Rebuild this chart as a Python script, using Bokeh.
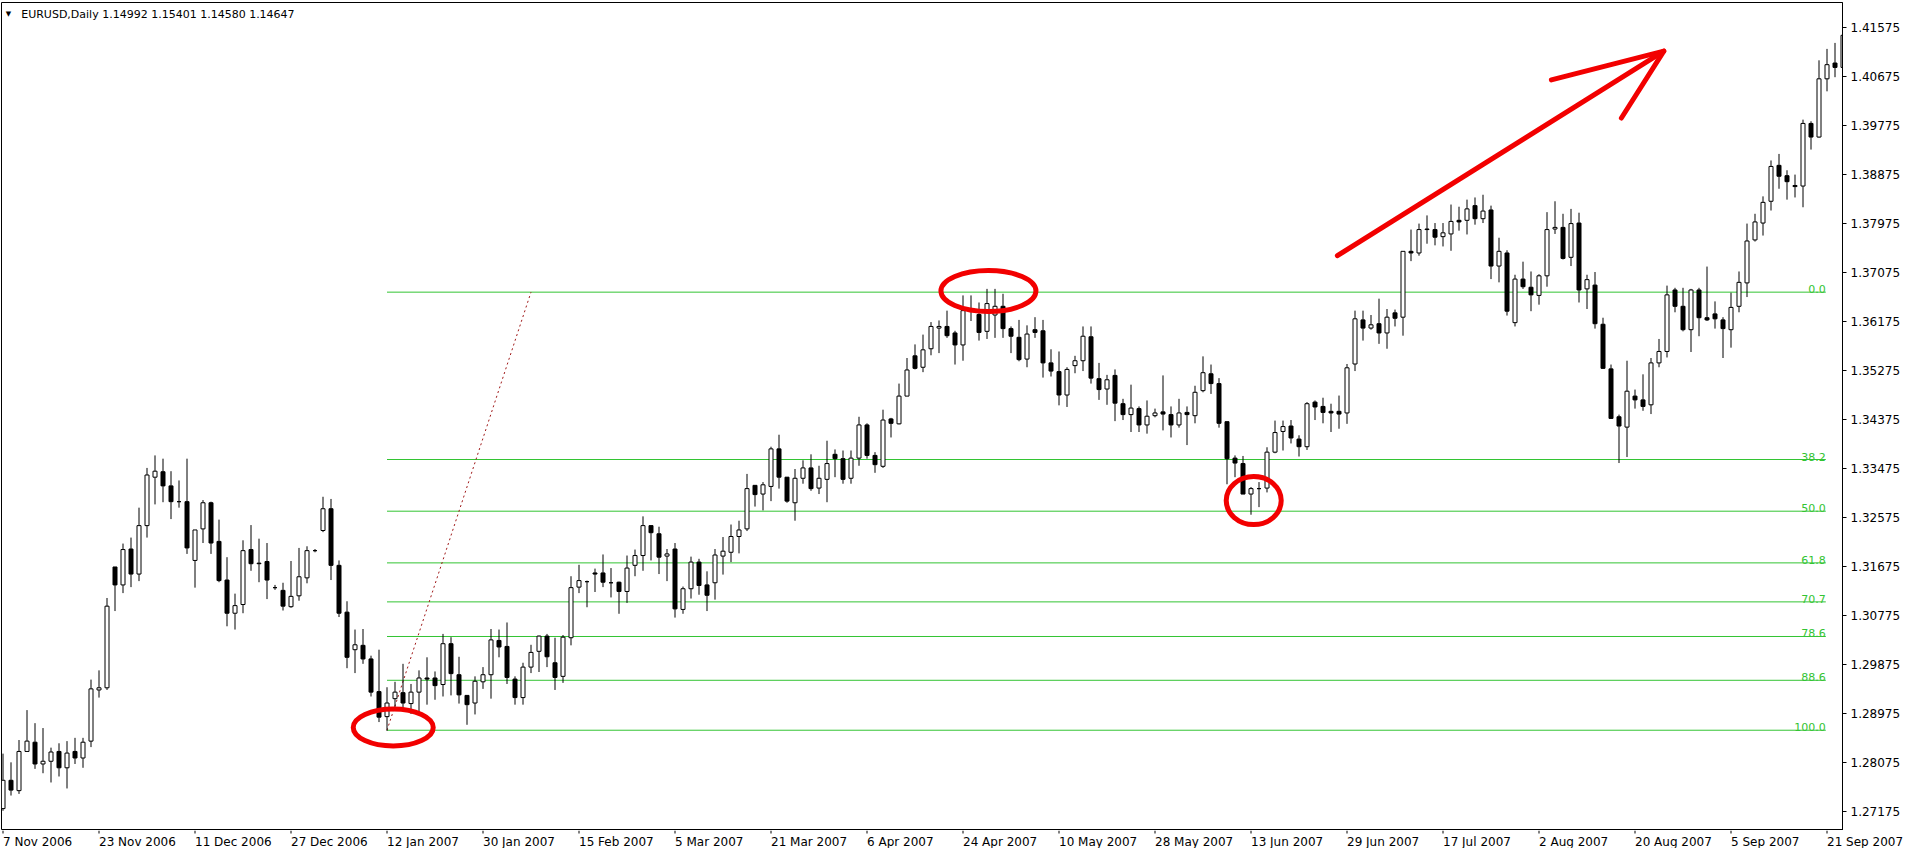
import pandas as pd
from bokeh.plotting import figure
from bokeh.layouts import column
from bokeh.models import Range1d, FixedTicker, PrintfTickFormatter, Label, ColumnDataSource
from bokeh.core.properties import value
from bokeh.embed import file_html
from bokeh.resources import INLINE

# ---------------- data (EURUSD daily) ----------------
open_ = [1.2722, 1.2774, 1.2755, 1.2827, 1.2844, 1.2804, 1.2809, 1.2827, 1.2797, 1.2827,
         1.2815, 1.2846, 1.2940, 1.2944, 1.3166, 1.3133, 1.3199, 1.3153, 1.3242, 1.3331,
         1.3341, 1.3315, 1.3286, 1.3286, 1.3178, 1.3236, 1.3284, 1.3213, 1.3142, 1.3081,
         1.3097, 1.3198, 1.3173, 1.3176, 1.3128, 1.3123, 1.3093, 1.3113, 1.3146, 1.3196,
         1.3233, 1.3273, 1.3169, 1.3083, 1.3014, 1.3022, 1.2997, 1.2937, 1.2891, 1.2924,
         1.2935, 1.2915, 1.2936, 1.2962, 1.2962, 1.2950, 1.3025, 1.2968, 1.2930, 1.2916,
         1.2955, 1.2968, 1.3031, 1.3020, 1.2960, 1.2926, 1.2982, 1.3011, 1.3039, 1.2990,
         1.2965, 1.3036, 1.3129, 1.3139, 1.3155, 1.3155, 1.3137, 1.3138, 1.3121, 1.3169,
         1.3187, 1.3242, 1.3227, 1.3186, 1.3199, 1.3088, 1.3126, 1.3175, 1.3133, 1.3137,
         1.3186, 1.3193, 1.3222, 1.3236, 1.3316, 1.3300, 1.3314, 1.3383, 1.3331, 1.3284,
         1.3329, 1.3348, 1.3311, 1.3327, 1.3373, 1.3365, 1.3329, 1.3366, 1.3427, 1.3371,
         1.3351, 1.3438, 1.3429, 1.3480, 1.3554, 1.3533, 1.3567, 1.3605, 1.3608, 1.3596,
         1.3574, 1.3637, 1.3630, 1.3599, 1.3629, 1.3645, 1.3604, 1.3588, 1.3548, 1.3602,
         1.3600, 1.3541, 1.3525, 1.3482, 1.3536, 1.3545, 1.3589, 1.3512, 1.3493, 1.3518,
         1.3466, 1.3446, 1.3457, 1.3427, 1.3444, 1.3451, 1.3446, 1.3427, 1.3450, 1.3444,
         1.3490, 1.3521, 1.3503, 1.3433, 1.3366, 1.3356, 1.3300, 1.3310, 1.3311, 1.3377,
         1.3415, 1.3425, 1.3401, 1.3387, 1.3469, 1.3461, 1.3452, 1.3452, 1.3449, 1.3539,
         1.3620, 1.3605, 1.3613, 1.3596, 1.3633, 1.3625, 1.3746, 1.3743, 1.3787, 1.3786,
         1.3773, 1.3778, 1.3803, 1.3803, 1.3830, 1.3806, 1.3822, 1.3719, 1.3743, 1.3615,
         1.3695, 1.3680, 1.3665, 1.3701, 1.3787, 1.3790, 1.3735, 1.3798, 1.3677, 1.3684,
         1.3612, 1.3530, 1.3442, 1.3423, 1.3480, 1.3473, 1.3464, 1.3541, 1.3562, 1.3675,
         1.3645, 1.3602, 1.3675, 1.3624, 1.3631, 1.3620, 1.3602, 1.3645, 1.3688, 1.3767,
         1.3798, 1.3838, 1.3904, 1.3885, 1.3867, 1.3866, 1.3981, 1.3956, 1.4063, 1.4092,
         1.4084]
high_ = [1.2823, 1.2807, 1.2848, 1.2903, 1.2879, 1.2870, 1.2834, 1.2842, 1.2846, 1.2852,
         1.2852, 1.2959, 1.2976, 1.3109, 1.3166, 1.3209, 1.3220, 1.3275, 1.3348, 1.3371,
         1.3365, 1.3342, 1.3325, 1.3365, 1.3234, 1.3289, 1.3286, 1.3253, 1.3184, 1.3117,
         1.3215, 1.3243, 1.3218, 1.3210, 1.3133, 1.3137, 1.3177, 1.3201, 1.3204, 1.3199,
         1.3295, 1.3291, 1.3178, 1.3103, 1.3051, 1.3052, 1.3003, 1.3014, 1.2945, 1.2955,
         1.2988, 1.2951, 1.2976, 1.3000, 1.2974, 1.3043, 1.3037, 1.3001, 1.2930, 1.2965,
         1.2982, 1.3052, 1.3051, 1.3064, 1.2965, 1.2990, 1.3023, 1.3040, 1.3043, 1.3036,
         1.3041, 1.3149, 1.3170, 1.3141, 1.3163, 1.3189, 1.3164, 1.3139, 1.3187, 1.3198,
         1.3259, 1.3242, 1.3240, 1.3199, 1.3210, 1.3130, 1.3185, 1.3181, 1.3158, 1.3199,
         1.3221, 1.3244, 1.3251, 1.3337, 1.3316, 1.3322, 1.3387, 1.3409, 1.3331, 1.3346,
         1.3362, 1.3373, 1.3352, 1.3398, 1.3382, 1.3380, 1.3380, 1.3442, 1.3430, 1.3377,
         1.3455, 1.3440, 1.3503, 1.3550, 1.3575, 1.3593, 1.3616, 1.3619, 1.3637, 1.3600,
         1.3665, 1.3665, 1.3652, 1.3677, 1.3677, 1.3668, 1.3608, 1.3620, 1.3610, 1.3625,
         1.3620, 1.3566, 1.3562, 1.3533, 1.3554, 1.3608, 1.3608, 1.3541, 1.3519, 1.3529,
         1.3475, 1.3501, 1.3461, 1.3472, 1.3457, 1.3518, 1.3461, 1.3475, 1.3461, 1.3499,
         1.3553, 1.3538, 1.3513, 1.3433, 1.3371, 1.3370, 1.3313, 1.3322, 1.3386, 1.3435,
         1.3435, 1.3436, 1.3408, 1.3469, 1.3472, 1.3477, 1.3466, 1.3481, 1.3539, 1.3637,
         1.3637, 1.3629, 1.3659, 1.3640, 1.3639, 1.3746, 1.3786, 1.3797, 1.3812, 1.3798,
         1.3798, 1.3832, 1.3828, 1.3841, 1.3845, 1.3850, 1.3830, 1.3771, 1.3748, 1.3703,
         1.3727, 1.3709, 1.3704, 1.3818, 1.3838, 1.3815, 1.3824, 1.3817, 1.3703, 1.3708,
         1.3624, 1.3538, 1.3446, 1.3545, 1.3492, 1.3520, 1.3550, 1.3585, 1.3683, 1.3679,
         1.3679, 1.3677, 1.3679, 1.3718, 1.3654, 1.3625, 1.3670, 1.3709, 1.3797, 1.3815,
         1.3847, 1.3913, 1.3925, 1.3895, 1.3887, 1.3988, 1.3985, 1.4097, 1.4118, 1.4129,
         1.4166]
low_ = [1.2718, 1.2746, 1.2749, 1.2826, 1.2795, 1.2787, 1.2770, 1.2781, 1.2759, 1.2804,
        1.2797, 1.2835, 1.2926, 1.2940, 1.3085, 1.3118, 1.3129, 1.3140, 1.3220, 1.3281,
        1.3285, 1.3254, 1.3275, 1.3190, 1.3128, 1.3210, 1.3190, 1.3138, 1.3057, 1.3051,
        1.3081, 1.3159, 1.3138, 1.3107, 1.3124, 1.3086, 1.3091, 1.3104, 1.3136, 1.3193,
        1.3230, 1.3142, 1.3074, 1.2980, 1.2971, 1.2988, 1.2928, 1.2881, 1.2865, 1.2908,
        1.2905, 1.2896, 1.2899, 1.2913, 1.2922, 1.2928, 1.2930, 1.2915, 1.2876, 1.2895,
        1.2942, 1.2924, 1.3000, 1.2951, 1.2913, 1.2913, 1.2971, 1.2973, 1.2982, 1.2940,
        1.2953, 1.3022, 1.3118, 1.3092, 1.3120, 1.3129, 1.3110, 1.3080, 1.3100, 1.3149,
        1.3159, 1.3178, 1.3153, 1.3140, 1.3073, 1.3080, 1.3108, 1.3115, 1.3085, 1.3106,
        1.3152, 1.3175, 1.3191, 1.3232, 1.3277, 1.3270, 1.3287, 1.3310, 1.3284, 1.3251,
        1.3319, 1.3306, 1.3300, 1.3285, 1.3331, 1.3319, 1.3319, 1.3352, 1.3365, 1.3339,
        1.3348, 1.3404, 1.3428, 1.3480, 1.3529, 1.3524, 1.3555, 1.3559, 1.3587, 1.3538,
        1.3545, 1.3618, 1.3582, 1.3585, 1.3587, 1.3587, 1.3559, 1.3544, 1.3533, 1.3587,
        1.3514, 1.3516, 1.3463, 1.3460, 1.3522, 1.3526, 1.3503, 1.3473, 1.3464, 1.3434,
        1.3436, 1.3414, 1.3414, 1.3411, 1.3441, 1.3417, 1.3404, 1.3422, 1.3390, 1.3430,
        1.3487, 1.3484, 1.3422, 1.3318, 1.3331, 1.3300, 1.3262, 1.3276, 1.3303, 1.3375,
        1.3380, 1.3393, 1.3369, 1.3381, 1.3436, 1.3430, 1.3414, 1.3420, 1.3429, 1.3526,
        1.3582, 1.3602, 1.3576, 1.3567, 1.3608, 1.3591, 1.3728, 1.3738, 1.3760, 1.3757,
        1.3755, 1.3747, 1.3784, 1.3777, 1.3795, 1.3798, 1.3695, 1.3689, 1.3628, 1.3608,
        1.3677, 1.3636, 1.3648, 1.3681, 1.3778, 1.3731, 1.3719, 1.3652, 1.3640, 1.3604,
        1.3530, 1.3438, 1.3357, 1.3368, 1.3457, 1.3453, 1.3447, 1.3533, 1.3551, 1.3634,
        1.3599, 1.3561, 1.3590, 1.3618, 1.3604, 1.3550, 1.3569, 1.3634, 1.3662, 1.3764,
        1.3775, 1.3821, 1.3861, 1.3841, 1.3845, 1.3827, 1.3933, 1.3955, 1.4040, 1.4066,
        1.4064]
close_ = [1.2774, 1.2756, 1.2827, 1.2846, 1.2804, 1.2809, 1.2826, 1.2797, 1.2824, 1.2815,
          1.2844, 1.2942, 1.2944, 1.3094, 1.3133, 1.3198, 1.3153, 1.3242, 1.3335, 1.3342,
          1.3315, 1.3286, 1.3286, 1.3201, 1.3234, 1.3284, 1.3210, 1.3141, 1.3081, 1.3095,
          1.3196, 1.3172, 1.3172, 1.3142, 1.3128, 1.3094, 1.3112, 1.3148, 1.3196, 1.3196,
          1.3273, 1.3169, 1.3081, 1.3000, 1.3023, 1.2997, 1.2936, 1.2890, 1.2916, 1.2936,
          1.2916, 1.2936, 1.2962, 1.2960, 1.2948, 1.3025, 1.2970, 1.2931, 1.2913, 1.2956,
          1.2968, 1.3032, 1.3019, 1.2963, 1.2926, 1.2982, 1.3009, 1.3039, 1.3001, 1.2963,
          1.3037, 1.3128, 1.3141, 1.3139, 1.3153, 1.3138, 1.3137, 1.3121, 1.3164, 1.3187,
          1.3242, 1.3229, 1.3184, 1.3190, 1.3089, 1.3126, 1.3175, 1.3132, 1.3114, 1.3188,
          1.3195, 1.3222, 1.3234, 1.3310, 1.3299, 1.3317, 1.3383, 1.3331, 1.3287, 1.3329,
          1.3348, 1.3310, 1.3329, 1.3356, 1.3365, 1.3327, 1.3366, 1.3427, 1.3371, 1.3354,
          1.3436, 1.3430, 1.3480, 1.3528, 1.3531, 1.3565, 1.3608, 1.3608, 1.3591, 1.3574,
          1.3637, 1.3637, 1.3597, 1.3650, 1.3645, 1.3604, 1.3590, 1.3547, 1.3594, 1.3597,
          1.3541, 1.3526, 1.3482, 1.3529, 1.3545, 1.3590, 1.3513, 1.3492, 1.3510, 1.3467,
          1.3446, 1.3458, 1.3427, 1.3443, 1.3449, 1.3447, 1.3427, 1.3449, 1.3446, 1.3487,
          1.3523, 1.3503, 1.3430, 1.3365, 1.3357, 1.3300, 1.3310, 1.3310, 1.3377, 1.3413,
          1.3424, 1.3403, 1.3387, 1.3466, 1.3460, 1.3450, 1.3449, 1.3447, 1.3532, 1.3622,
          1.3605, 1.3611, 1.3596, 1.3625, 1.3623, 1.3746, 1.3743, 1.3786, 1.3786, 1.3772,
          1.3780, 1.3801, 1.3800, 1.3824, 1.3806, 1.3820, 1.3719, 1.3746, 1.3636, 1.3695,
          1.3681, 1.3666, 1.3701, 1.3786, 1.3790, 1.3733, 1.3797, 1.3675, 1.3694, 1.3613,
          1.3531, 1.3439, 1.3425, 1.3489, 1.3473, 1.3461, 1.3541, 1.3562, 1.3666, 1.3645,
          1.3602, 1.3675, 1.3624, 1.3620, 1.3622, 1.3604, 1.3643, 1.3689, 1.3765, 1.3800,
          1.3836, 1.3902, 1.3884, 1.3874, 1.3865, 1.3981, 1.3956, 1.4063, 1.4089, 1.4084,
          1.4143]

date_labels = ["7 Nov 2006", "23 Nov 2006", "11 Dec 2006", "27 Dec 2006", "12 Jan 2007",
               "30 Jan 2007", "15 Feb 2007", "5 Mar 2007", "21 Mar 2007", "6 Apr 2007",
               "24 Apr 2007", "10 May 2007", "28 May 2007", "13 Jun 2007", "29 Jun 2007",
               "17 Jul 2007", "2 Aug 2007", "20 Aug 2007", "5 Sep 2007", "21 Sep 2007"]
price_ticks = [1.27175, 1.28075, 1.28975, 1.29875, 1.30775, 1.31675, 1.32575, 1.33475,
               1.34375, 1.35275, 1.36175, 1.37075, 1.37975, 1.38875, 1.39775, 1.40675, 1.41575]
fib_levels = [0.0, 38.2, 50.0, 61.8, 70.7, 78.6, 88.6, 100.0]
fib_high = 1.3671
fib_low = 1.2866
header_text = "EURUSD,Daily  1.14992 1.15401 1.14580 1.14647"

# ---------------- layout ----------------
n = len(close_)
dates = pd.bdate_range("2006-11-07", periods=n)
date_str = [f"{d.day} {d.strftime('%b %Y')}" for d in dates]
idx = list(range(n))

LEFT, TOP = 1, 2            # frame offset inside the figure
FW, FH = 1841, 828          # frame size
PX_PER_BAR = 8.0
PX_PER_UNIT = 5442.0
x_start = (LEFT - 2.5) / PX_PER_BAR
x_end = x_start + FW / PX_PER_BAR
top_tick_y = 26.9 - TOP     # px from frame top of the top price tick
y_top = price_ticks[-1] + top_tick_y / PX_PER_UNIT
y_bot = y_top - FH / PX_PER_UNIT

FONT = "DejaVu Sans"
GREEN = "#33c433"
RED = "#f20000"

p = figure(frame_width=FW, frame_height=FH,
           x_range=Range1d(x_start, x_end), y_range=Range1d(y_bot, y_top),
           x_axis_location=None, y_axis_location="right",
           toolbar_location=None, output_backend="svg",
           min_border_left=LEFT, min_border_top=TOP, min_border_right=58, min_border_bottom=0,
           background_fill_color="white", border_fill_color="white",
           outline_line_color="black", outline_line_width=1)
p.grid.visible = False

# y axis (right)
ya = p.yaxis[0]
ya.ticker = FixedTicker(ticks=price_ticks)
ya.formatter = PrintfTickFormatter(format="%.5f")
ya.major_tick_out = 4
ya.major_tick_in = 0
ya.minor_tick_out = 0
ya.minor_tick_in = 0
ya.major_label_standoff = 4
ya.major_label_text_font = FONT
ya.major_label_text_font_size = "12px"
ya.major_label_text_color = "black"
ya.axis_line_color = "black"
ya.major_tick_line_color = "black"

# ---------------- Fibonacci levels ----------------
fib_prices = [fib_high - lv / 100.0 * (fib_high - fib_low) for lv in fib_levels]
i_low = 48
fib_end = 227.85
p.segment(x0=[i_low] * len(fib_prices), x1=[fib_end] * len(fib_prices),
          y0=fib_prices, y1=fib_prices, line_color=GREEN, line_width=1)
for lv, pr in zip(fib_levels, fib_prices):
    p.add_layout(Label(x=fib_end, y=pr, text=f"{lv:.1f}", text_align="right",
                       text_baseline="alphabetic", y_offset=3, text_font=FONT,
                       text_font_size="11px", text_color=GREEN))
# fib anchor (dotted)
p.line(x=[i_low, 66], y=[fib_low, fib_high], line_color="#a01818", line_width=1,
       line_dash="2 3")

# ---------------- candles ----------------
src = ColumnDataSource(dict(
    x=idx,
    top=[max(o, c) for o, c in zip(open_, close_)],
    bottom=[min(o, c) for o, c in zip(open_, close_)],
    high=high_, low=low_,
    fill=["white" if c >= o else "black" for o, c in zip(open_, close_)],
))
p.segment(x0="x", x1="x", y0="low", y1="high", source=src, line_color="black", line_width=1)
p.vbar(x="x", width=0.5, top="top", bottom="bottom", fill_color="fill",
       line_color="black", line_width=1, source=src)

# ---------------- red annotations ----------------
p.ellipse(x=[48.78, 123.18, 156.34], y=[1.2871, 1.3673, 1.3288],
          width=[80, 95, 55], height=[37, 41, 48],
          width_units="screen", height_units="screen",
          fill_color=None, line_color=RED, line_width=5)
p.multi_line(xs=[[166.8, 207.6], [193.55, 207.6, 202.3]],
             ys=[[1.3738, 1.4114], [1.4061, 1.4114, 1.3991]],
             line_color=RED, line_width=5, line_cap="round", line_join="round")

# ---------------- header ----------------
p.add_layout(Label(x=6.9, y=FH - 11, x_units="screen", y_units="screen", text="\u25bc",
                   text_align="center", text_baseline="middle", text_font=FONT,
                   text_font_size="7px", text_color="black"))
p.add_layout(Label(x=19.7, y=FH - 11.8, x_units="screen", y_units="screen", text=header_text,
                   text_baseline="middle", text_font=FONT, text_font_size="11px",
                   text_color="black"))

# ---------------- time scale strip (ticks + left-aligned date labels) ----------------
SW, SH = 1903, 18
q = figure(frame_width=SW, frame_height=SH,
           x_range=Range1d(x_start, x_start + SW / PX_PER_BAR), y_range=Range1d(0, SH),
           x_axis_location=None, y_axis_location=None,
           toolbar_location=None, output_backend="svg",
           min_border_left=LEFT, min_border_top=0, min_border_right=0, min_border_bottom=0,
           background_fill_color="white", border_fill_color="white",
           outline_line_color=None)
q.grid.visible = False
tick_idx = [date_str.index(lab) for lab in date_labels]
q.segment(x0=tick_idx, x1=tick_idx, y0=[SH] * len(tick_idx), y1=[SH - 3] * len(tick_idx),
          line_color="black", line_width=1)
q.text(x=tick_idx, y=[SH - 11] * len(tick_idx), text=date_labels,
       text_align="left", text_baseline="middle",
       text_font=value(FONT), text_font_size=value("12px"), text_color="black")

layout = column(p, q, spacing=0)
open("out.html", "w").write(file_html(layout, INLINE))
